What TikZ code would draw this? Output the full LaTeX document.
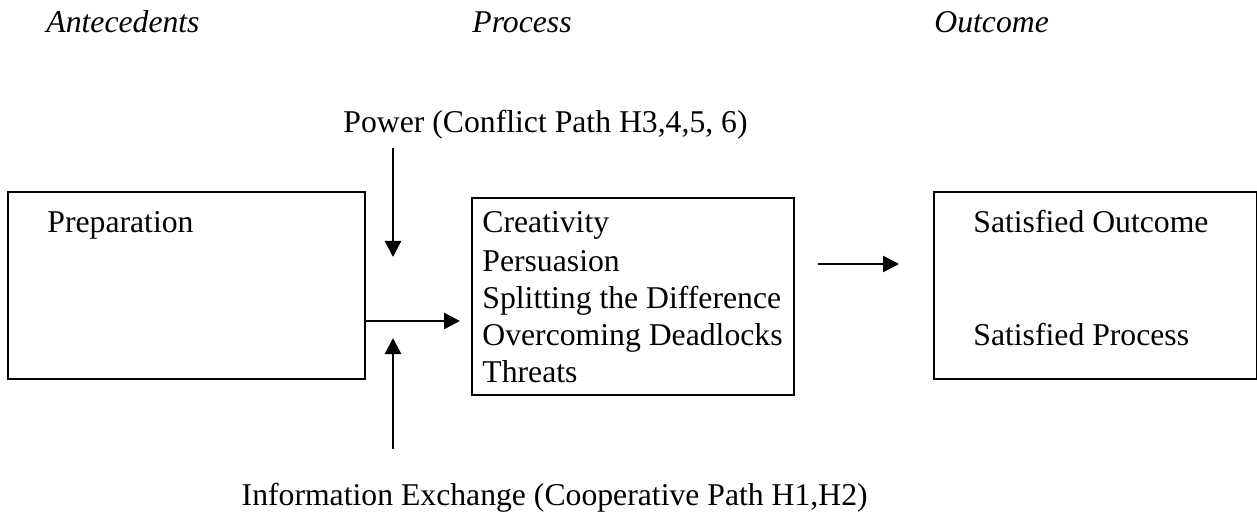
\documentclass[tikz,border=0pt]{standalone}
\usepackage{fontspec}
\setmainfont{Liberation Serif}
\usetikzlibrary{arrows.meta}
\begin{document}
\begin{tikzpicture}[x=0.5pt,y=-0.5pt,
  box/.style={draw,line width=0.9pt,inner sep=0pt},
  lbl/.style={inner sep=0pt,anchor=base west,font=\fontsize{15.85}{18.5}\selectfont},
  lble/.style={lbl,anchor=base east},
  hd/.style={lbl,font=\fontsize{15.85}{18.5}\selectfont\itshape},
  arr/.style={line width=1.2pt,-{Triangle[length=8pt,width=8pt]}}]
\useasboundingbox (0,0) rectangle (1257,518);
% headings
\node[hd] (hA) at (46,33) {Antecedents};
\node[hd] (hP) at (472,33) {Process};
\node[hd] (hO) at (934,33) {Outcome};
% boxes
\node[box,minimum width=178.5pt,minimum height=93.5pt] (prep) at (186.5,285.5) {};
\node[box,minimum width=161pt,minimum height=98.5pt] (proc) at (633,296.5) {};
\node[box,minimum width=161.5pt,minimum height=93.5pt] (outc) at (1095.5,285.5) {};
% box texts
\node[lbl] (tprep) at (47,233) {Preparation};
\node[lbl] (c1) at (482,233) {Creativity};
\node[lbl] (c2) at (482,271) {Persuasion};
\node[lbl] (c3) at (482,308) {Splitting the Difference};
\node[lbl] (c4) at (482,345) {Overcoming Deadlocks};
\node[lbl] (c5) at (482,382) {Threats};
\node[lbl] (so) at (973,233) {Satisfied Outcome};
\node[lbl] (sp) at (973,345) {Satisfied Process};
% side labels
\node[lble] (power) at (748,133) {Power (Conflict Path H3,4,5, 6)};
\node[lble] (info) at (868,505) {Information Exchange (Cooperative Path H1,H2)};
% connectors
\coordinate (pw1) at (393,148);
\coordinate (pw2) at (393,257);
\draw[arr] (pw1) -- (pw2);
\coordinate (ie1) at (393,449);
\coordinate (ie2) at (393,338);
\draw[arr] (ie1) -- (ie2);
\coordinate (jn) at (460,321);
\draw[arr] (prep.east |- jn) -- (jn);
\coordinate (o1) at (818,264);
\coordinate (o2) at (899,264);
\draw[arr] (o1) -- (o2);
\end{tikzpicture}
\end{document}
